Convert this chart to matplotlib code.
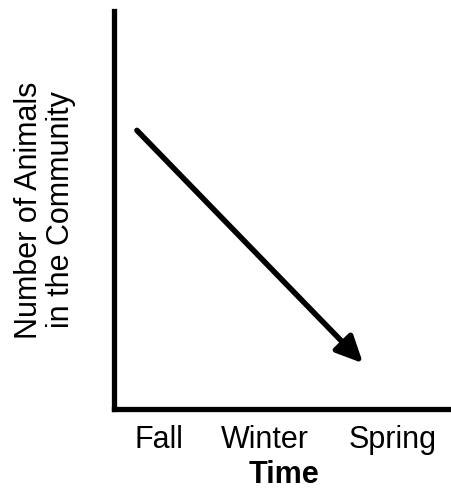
import matplotlib
matplotlib.use("Agg")
import matplotlib.pyplot as plt

# categories along the time axis and their positions (axes fraction)
seasons = ["Fall", "Winter", "Spring"]
season_pos = [0.131, 0.441, 0.812]

# decreasing trend arrow: start -> end
trend_x = [0.067, 0.727]
trend_y = [0.70, 0.115]

x_label = "Time"
y_label = "Number of Animals\nin the Community"

plt.rcParams["font.family"] = ["Liberation Sans", "DejaVu Sans"]

fig = plt.figure(figsize=(4.52, 4.89), dpi=100)
ax = fig.add_axes([114 / 452, 79 / 489, 1.01 - 114 / 452, 398 / 489])
ax.set_xlim(0, 1)
ax.set_ylim(0, 1)

for side in ["top", "right"]:
    ax.spines[side].set_visible(False)
for side in ["left", "bottom"]:
    ax.spines[side].set_linewidth(3.8)
    ax.spines[side].set_color("black")

ax.annotate(
    "",
    xy=(trend_x[1], trend_y[1]),
    xytext=(trend_x[0], trend_y[0]),
    arrowprops=dict(arrowstyle="-|>,head_length=0.8,head_width=0.38", linewidth=4,
                    color="black", shrinkA=0, shrinkB=0, mutation_scale=20),
)

ax.set_xticks(season_pos)
ax.set_xticklabels(seasons, fontsize=22)
ax.set_yticks([])
ax.tick_params(axis="x", length=0, pad=11)
ax.set_xlabel(x_label, fontsize=22, fontweight="bold")
ax.xaxis.set_label_coords(0.496, -0.125)

fig.text(45 / 452, 0.5 + 0.5 * (79 - 10) / 489, y_label, rotation=90,
         ha="center", va="center", fontsize=22, linespacing=1.05)

fig.savefig("out.png", dpi=100)
